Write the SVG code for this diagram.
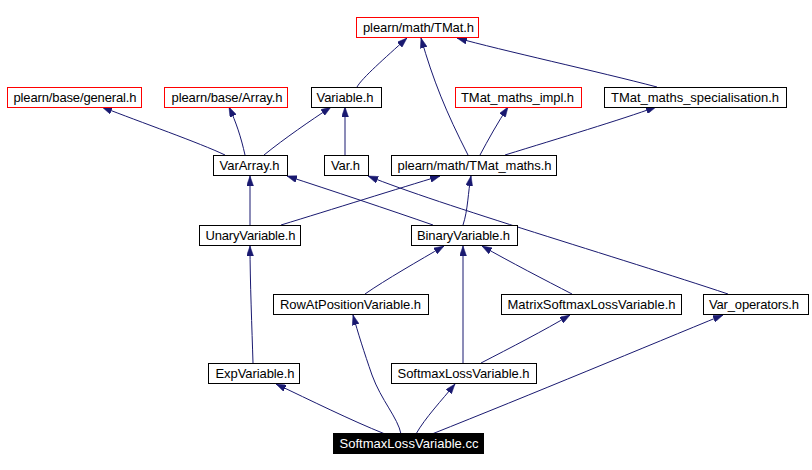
<svg xmlns="http://www.w3.org/2000/svg" width="812" height="470" viewBox="0 0 812 470">
<defs>
<style>
.n rect{fill:#fff;stroke:#000;stroke-width:1}
.n.r rect{stroke:#ff0000}
.n text{font-family:"Liberation Sans",Arial,sans-serif;font-size:13px;fill:#000;text-anchor:middle}
.n.root rect{fill:#000;stroke:#000}
.n.root text{fill:#fff}
.e path{fill:none;stroke:#191970;stroke-width:1;marker-end:url(#ah)}
</style>
<marker id="ah" viewBox="0 0 10 7" refX="10" refY="3.5" markerWidth="10" markerHeight="7" markerUnits="userSpaceOnUse" orient="auto">
<path d="M0,0 L10,3.5 L0,7 z" fill="#191970" stroke="#191970" stroke-width="0.5"/>
</marker>
</defs>
<rect x="0" y="0" width="812" height="470" fill="#fff"/>
<g id="edges" class="e">
<path d="M357,87 C362,78 385,58 407,38"/>
<path d="M225,155 C200,143 140,122 102,107"/>
<path d="M245,155 C241,137 236,122 229,107"/>
<path d="M264,155 C285,138 310,121 331,107"/>
<path d="M345,155 L345,107"/>
<path d="M468,155 C446,112 433,80 421,38"/>
<path d="M480,155 C488,140 498,122 508,107"/>
<path d="M505,155 C560,138 620,120 656,107"/>
<path d="M657,87 C600,72 500,50 457,38"/>
<path d="M250,225 L250,176"/>
<path d="M281,225 C330,210 400,188 440,176"/>
<path d="M433,225 C390,210 330,190 287,176"/>
<path d="M463,225 C468,210 468,192 471,176"/>
<path d="M728,294 C620,258 440,205 368,176"/>
<path d="M365,294 C385,280 420,260 444,246"/>
<path d="M463,363 L463,246"/>
<path d="M572,294 C545,280 510,262 482,246"/>
<path d="M253,363 C252,330 250,280 250,246"/>
<path d="M481,363 C510,348 545,330 570,315"/>
<path d="M385,434 C350,420 310,400 276,384"/>
<path d="M401,434 C398,418 381,400 372,375 C364,352 358,333 353,315"/>
<path d="M416,434 C425,418 442,400 455,384"/>
<path d="M432,434 C530,395 650,345 723,315"/>
</g>
<g id="tmat" class="n r"><rect x="356.5" y="17.5" width="122" height="20"/><text x="418.5" y="32" textLength="111" lengthAdjust="spacing">plearn/math/TMat.h</text></g>
<g id="general" class="n r"><rect x="7.5" y="87.5" width="134" height="20"/><text x="75" y="102" textLength="123" lengthAdjust="spacing">plearn/base/general.h</text></g>
<g id="array" class="n r"><rect x="164.5" y="87.5" width="123" height="20"/><text x="227" y="102" textLength="111" lengthAdjust="spacing">plearn/base/Array.h</text></g>
<g id="variable" class="n"><rect x="311.5" y="87.5" width="70" height="20"/><text x="345" y="102" textLength="57" lengthAdjust="spacing">Variable.h</text></g>
<g id="impl" class="n r"><rect x="455.5" y="87.5" width="126" height="20"/><text x="517.5" y="102" textLength="113" lengthAdjust="spacing">TMat_maths_impl.h</text></g>
<g id="spec" class="n"><rect x="604.5" y="87.5" width="182" height="20"/><text x="695" y="102" textLength="168" lengthAdjust="spacing">TMat_maths_specialisation.h</text></g>
<g id="vararray" class="n"><rect x="213.5" y="155.5" width="74" height="20"/><text x="249.5" y="170" textLength="60" lengthAdjust="spacing">VarArray.h</text></g>
<g id="var" class="n"><rect x="324.5" y="155.5" width="44" height="20"/><text x="345.5" y="170" textLength="29" lengthAdjust="spacing">Var.h</text></g>
<g id="tmatmaths" class="n"><rect x="391.5" y="155.5" width="165" height="20"/><text x="474.5" y="170" textLength="154" lengthAdjust="spacing">plearn/math/TMat_maths.h</text></g>
<g id="unary" class="n"><rect x="199.5" y="225.5" width="101" height="20"/><text x="250.5" y="240" textLength="90" lengthAdjust="spacing">UnaryVariable.h</text></g>
<g id="binary" class="n"><rect x="411.5" y="225.5" width="106" height="20"/><text x="463.5" y="240" textLength="93" lengthAdjust="spacing">BinaryVariable.h</text></g>
<g id="rowat" class="n"><rect x="273.5" y="294.5" width="155" height="20"/><text x="350.5" y="309" textLength="141" lengthAdjust="spacing">RowAtPositionVariable.h</text></g>
<g id="matrix" class="n"><rect x="501.5" y="294.5" width="180" height="20"/><text x="591.5" y="309" textLength="168" lengthAdjust="spacing">MatrixSoftmaxLossVariable.h</text></g>
<g id="varops" class="n"><rect x="703.5" y="294.5" width="105" height="20"/><text x="754" y="309" textLength="90" lengthAdjust="spacing">Var_operators.h</text></g>
<g id="exp" class="n"><rect x="208.5" y="363.5" width="91" height="20"/><text x="255" y="378" textLength="79" lengthAdjust="spacing">ExpVariable.h</text></g>
<g id="softmaxh" class="n"><rect x="391.5" y="363.5" width="145" height="20"/><text x="463.5" y="378" textLength="132" lengthAdjust="spacing">SoftmaxLossVariable.h</text></g>
<g id="softmaxcc" class="n root"><rect x="333.5" y="433.5" width="150" height="20"/><text x="409" y="448" textLength="139" lengthAdjust="spacing">SoftmaxLossVariable.cc</text></g>
</svg>
